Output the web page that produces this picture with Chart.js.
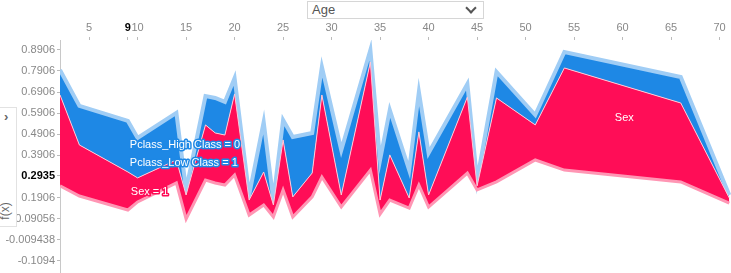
<!DOCTYPE html>
<html>
<head>
<meta charset="utf-8">
<script src="https://cdn.jsdelivr.net/npm/chart.js@4.4.1/dist/chart.umd.min.js"></script>
<style>
  html, body { margin: 0; padding: 0; background: #fff; }
  body { width: 731px; height: 273px; position: relative; overflow: hidden; font-family: "Liberation Sans", Arial, sans-serif; }
  #wrap { position: absolute; left: 0; top: 0; width: 731px; height: 273px; }
  #sel { position: absolute; left: 307px; top: 1px; width: 175px; height: 16px; border: 1px solid #d6d6d6; background: #fff; }
  #sel span { position: absolute; left: 4px; top: 0px; font-size: 13px; color: #555; line-height: 16px; }
  #sel i { position: absolute; right: 8px; top: 2px; width: 6px; height: 6px; border-right: 2px solid #555; border-bottom: 2px solid #555; transform: rotate(45deg); }
  #side { position: absolute; left: -1px; top: 107px; width: 16px; height: 118px; border: 1px solid #e2e2e2; background: #fff; }
  #side b { position: absolute; left: 4px; top: 1px; font-size: 13px; color: #666; }
  #side em { position: absolute; left: -4px; top: 96px; font-style: normal; font-size: 12px; color: #666; transform: rotate(-90deg); }
</style>
</head>
<body>
<div id="wrap"><canvas id="myForceChart" width="731" height="273"></canvas></div>
<div id="sel"><span>Age</span><i></i></div>
<div id="side"><b>&#8250;</b><em>f(x)</em></div>
<script>
// ages of the samples (ordered by feature value)
var ages = [2, 4, 9, 10, 14, 15, 17, 18, 19, 20, 21.5, 23, 24, 25, 26, 28, 29, 31, 34, 35, 36, 38, 39, 40, 44, 45, 47, 51, 54, 66, 71];
// top of the blue (negative) stack
var topVals = [0.795, 0.625, 0.554, 0.473, 0.592, 0.227, 0.672, 0.663, 0.644, 0.757, 0.203, 0.549, 0.179, 0.558, 0.478, 0.497, 0.810, 0.416, 0.890, 0.369, 0.606, 0.321, 0.691, 0.402, 0.729, 0.274, 0.786, 0.582, 0.881, 0.762, 0.203];
// output value f(x): border red / blue
var outVals = [0.677, 0.440, 0.312, 0.284, 0.369, 0.203, 0.535, 0.497, 0.487, 0.682, 0.179, 0.312, 0.156, 0.464, 0.194, 0.307, 0.677, 0.203, 0.833, 0.179, 0.393, 0.189, 0.502, 0.203, 0.667, 0.246, 0.663, 0.535, 0.805, 0.639, 0.189];
// bottom of the red (positive) stack
var botVals = [0.246, 0.198, 0.132, 0.170, 0.260, 0.089, 0.274, 0.260, 0.250, 0.298, 0.108, 0.156, 0.099, 0.227, 0.099, 0.194, 0.288, 0.146, 0.321, 0.113, 0.179, 0.141, 0.250, 0.146, 0.307, 0.227, 0.265, 0.369, 0.321, 0.265, 0.165];

var xTickVals = [5, 9, 10, 15, 20, 25, 30, 35, 40, 45, 50, 55, 60, 65, 70];
var yTickVals = [-0.1094, -0.009438, 0.09056, 0.1906, 0.2935, 0.3906, 0.4906, 0.5906, 0.6906, 0.7906, 0.8906];
var yTickLabels = ['-0.1094', '-0.009438', '0.09056', '0.1906', '0.2935', '0.3906', '0.4906', '0.5906', '0.6906', '0.7906', '0.8906'];
var baseValue = 0.2935;
var highlightAge = 9;

// feature labels: [text, age, value, stroke colour]
var featLabels = [
    ['Pclass_High Class = 0', 9.2, 0.440, '#1e88e5'],
    ['Pclass_Low Class = 1', 9.2, 0.354, '#1e88e5'],
    ['Sex = 1', 9.3, 0.217, '#ff0d57'],
    ['Sex', 59.2, 0.568, null]
];

function pts(vals) {
    return ages.map(function (a, i) { return { x: a, y: vals[i] }; });
}

var labelPlugin = {
    id: 'featLabels',
    afterDatasetsDraw: function (chart) {
        var c = chart.ctx;
        var sx = chart.scales.x, sy = chart.scales.y;
        c.save();
        c.font = '11px "Liberation Sans", Arial, sans-serif';
        c.textBaseline = 'middle';
        c.lineJoin = 'round';
        featLabels.forEach(function (l) {
            var px = sx.getPixelForValue(l[1]), py = sy.getPixelForValue(l[2]);
            if (l[3]) {
                c.strokeStyle = l[3];
                c.lineWidth = 3;
                c.strokeText(l[0], px, py);
            }
            c.fillStyle = '#fff';
            c.fillText(l[0], px, py);
        });
        c.restore();
    }
};

function noPad(s) {
    s.paddingTop = 0;
    s.paddingBottom = 0;
    s.paddingLeft = 0;
    s.paddingRight = 0;
}

var ctx = document.getElementById('myForceChart').getContext('2d');
var myForceChart = new Chart(ctx, {
    type: 'line',
    data: {
        datasets: [{
            label: 'bottom',
            data: pts(botVals),
            borderColor: 'rgba(255, 150, 180, 1)',
            borderWidth: 3,
            fill: false
        }, {
            label: 'f(x)',
            data: pts(outVals),
            borderColor: 'rgba(255, 200, 215, 1)',
            borderWidth: 1,
            backgroundColor: '#ff0d57',
            fill: '-1'
        }, {
            label: 'top',
            data: pts(topVals),
            borderColor: 'rgba(160, 205, 245, 1)',
            borderWidth: 4,
            backgroundColor: '#1e88e5',
            fill: '-1'
        }]
    },
    options: {
        responsive: false,
        animation: false,
        layout: { padding: 0 },
        elements: { point: { radius: 0 }, line: { tension: 0 } },
        plugins: { legend: { display: false }, tooltip: { enabled: false } },
        scales: {
            x: {
                type: 'linear',
                position: 'top',
                min: 2,
                max: 71.18,
                afterFit: function (s) { s.height = 40; noPad(s); },
                afterBuildTicks: function (s) { s.ticks = xTickVals.map(function (v) { return { value: v }; }); },
                grid: { drawOnChartArea: false, tickLength: 3, color: '#bbb' },
                border: { display: false },
                ticks: {
                    autoSkip: false,
                    maxRotation: 0,
                    padding: 2,
                    callback: function (v) { return String(v); },
                    color: function (c) { return c.tick && c.tick.value === highlightAge ? '#000' : '#888'; },
                    font: function (c) {
                        return c.tick && c.tick.value === highlightAge
                            ? { size: 11, weight: 'bold', family: '"Liberation Sans", Arial' }
                            : { size: 11, family: '"Liberation Sans", Arial' };
                    }
                }
            },
            y: {
                min: -0.1667,
                max: 0.9375,
                afterFit: function (s) { s.width = 60; noPad(s); },
                afterBuildTicks: function (s) { s.ticks = yTickVals.map(function (v) { return { value: v }; }); },
                grid: { drawOnChartArea: false, tickLength: 3, color: '#bbb' },
                border: { display: true, color: '#c8c8c8' },
                ticks: {
                    autoSkip: false,
                    padding: 2,
                    callback: function (v) { return yTickLabels[yTickVals.indexOf(v)]; },
                    color: function (c) { return c.tick && c.tick.value === baseValue ? '#000' : '#888'; },
                    font: function (c) {
                        return c.tick && c.tick.value === baseValue
                            ? { size: 11, weight: 'bold', family: '"Liberation Sans", Arial' }
                            : { size: 11, family: '"Liberation Sans", Arial' };
                    }
                }
            }
        }
    },
    plugins: [labelPlugin]
});
</script>
</body>
</html>
